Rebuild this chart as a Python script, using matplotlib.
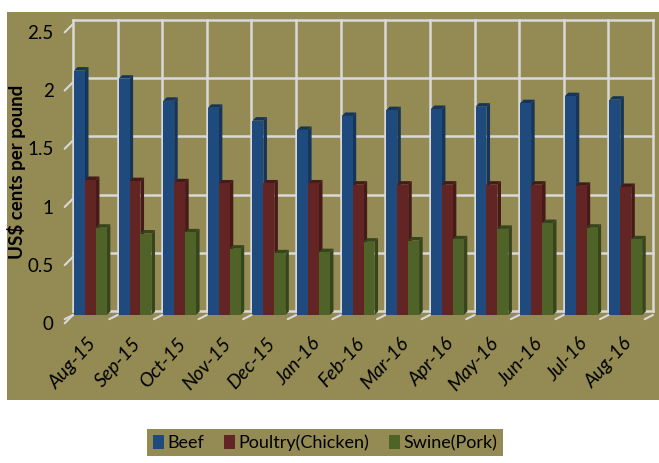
"""Prix de gros US: boeuf, volaille, porc (Aug-15 a Aug-16)."""

import numpy as np
import matplotlib.pyplot as plt
from matplotlib.patches import Rectangle
from matplotlib.transforms import ScaledTranslation

# Donnees
mois = ['Aug-15', 'Sep-15', 'Oct-15', 'Nov-15', 'Dec-15', 'Jan-16', 'Feb-16',
        'Mar-16', 'Apr-16', 'May-16', 'Jun-16', 'Jul-16', 'Aug-16']
beef = [2.10, 2.03, 1.84, 1.78, 1.67, 1.59, 1.71, 1.76, 1.77, 1.79, 1.82, 1.88, 1.85]
poultry = [1.16, 1.15, 1.14, 1.13, 1.13, 1.13, 1.12, 1.12, 1.12, 1.12, 1.12, 1.11, 1.10]
swine = [0.75, 0.70, 0.71, 0.57, 0.53, 0.54, 0.63, 0.64, 0.65, 0.74, 0.79, 0.75, 0.65]
series = ['Beef', 'Poultry(Chicken)', 'Swine(Pork)']

# Styles
fond = '#948A54'
grille = '#D9D9D9'
couleurs = ['#1F4A7E', '#632523', '#4F6228']
cotes = ['#163659', '#451a19', '#37451c']
plt.rcParams['font.family'] = ['Lato', 'DejaVu Sans']

fig = plt.figure(figsize=(6.59, 4.63), dpi=100)
fig.patch.set_facecolor('white')
# panneau olive
fig.patches.append(Rectangle((7 / 659, 1 - 400 / 463), 1, (400 - 12) / 463,
                             transform=fig.transFigure, facecolor=fond,
                             edgecolor='none', zorder=-1))

# axes = plan avant (sol a y=315), le mur du fond est decale de 4 px vers le haut
ax = fig.add_axes([73 / 659, 1 - 315 / 463, (653 - 73) / 659, (315 - 24) / 463])
ax.set_facecolor('none')
ax.set_zorder(1)
recul = ScaledTranslation(0, 0.04, fig.dpi_scale_trans)

x = np.arange(len(mois))
largeur = 0.245
depth_x, depth_y = 0.08, 0.03
for k, (vals, c, cs) in enumerate(zip([beef, poultry, swine], couleurs, cotes)):
    pos = x - 0.11 + (k - 1) * largeur
    ax.bar(pos, vals, width=largeur, color=c, label=series[k], zorder=3)
    # petite face laterale pour l'effet 3D
    for p, v in zip(pos, vals):
        xr = p + largeur / 2
        ax.fill([xr, xr + depth_x, xr + depth_x, xr],
                [0, depth_y, v + depth_y, v], color=cs, zorder=2.5, lw=0)
        ax.fill([xr - largeur, xr - largeur + depth_x, xr + depth_x, xr],
                [v, v + depth_y, v + depth_y, v], color=cs, zorder=2.5, lw=0)

ax.set_xlim(-0.5, len(mois) - 0.5)
ax.set_ylim(0, 2.5)
ax.set_yticks(np.arange(0, 2.51, 0.5))
ax.set_yticklabels(['0', '0.5', '1', '1.5', '2', '2.5'])
ax.set_xticks(x)
ax.set_xticklabels(mois, rotation=48, ha='right', va='top',
                   rotation_mode='anchor', style='italic')
ax.tick_params(axis='both', length=0)
ax.tick_params(axis='y', labelsize=13.5, pad=14)
ax.tick_params(axis='x', labelsize=14, pad=0)
for lab in ax.get_xticklabels():
    lab.set_transform(lab.get_transform() + ScaledTranslation(-0.08, -0.2, fig.dpi_scale_trans))
for lab in ax.get_yticklabels():
    lab.set_transform(lab.get_transform() + ScaledTranslation(0, -0.08, fig.dpi_scale_trans))

# grille (mur du fond + petites aretes du sol et du cote)
for yv in np.arange(0, 2.51, 0.5):
    ax.plot([0, 1], [yv, yv], transform=ax.get_yaxis_transform() + recul,
            color=grille, lw=1.8, zorder=1, clip_on=False)
    ax.annotate('', xy=(-0.5, yv), xytext=(-6, -6), textcoords='offset points',
                arrowprops=dict(arrowstyle='-', color=grille, lw=1.5,
                                shrinkA=0, shrinkB=0), annotation_clip=False)
for xv in np.arange(-0.5, len(mois), 1):
    ax.plot([xv, xv], [0, 1], transform=ax.get_xaxis_transform() + recul,
            color=grille, lw=1.8, zorder=1, clip_on=False)
    ax.annotate('', xy=(xv, 0), xytext=(-6, -3), textcoords='offset points',
                arrowprops=dict(arrowstyle='-', color=grille, lw=1.5,
                                shrinkA=0, shrinkB=0), annotation_clip=False)
for s in ax.spines.values():
    s.set_visible(False)

fig.text(17 / 659, 1 - 172 / 463, 'US$ cents per pound', rotation=90,
         ha='center', va='center', fontsize=13.5, fontweight='bold')

leg = fig.legend(loc='upper center', bbox_to_anchor=(325 / 659, 1 - 429 / 463),
                 ncol=3, frameon=True, fancybox=False, fontsize=13,
                 handlelength=0.6, handleheight=0.8, handletextpad=0.2,
                 columnspacing=1.1, borderpad=0.3, borderaxespad=0)
leg.get_frame().set_facecolor(fond)
leg.get_frame().set_edgecolor('none')
leg.get_frame().set_alpha(1)

fig.savefig('out.png', dpi=100)
